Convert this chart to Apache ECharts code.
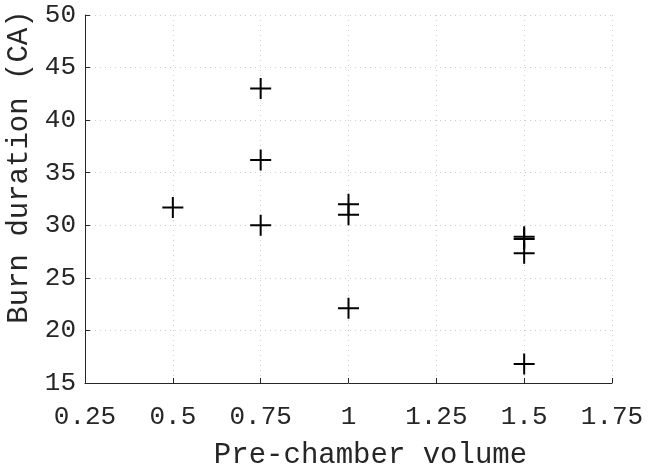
<!DOCTYPE html>
<html>
<head>
<meta charset="utf-8">
<script src="https://cdn.jsdelivr.net/npm/echarts@6/dist/echarts.min.js"></script>
<style>html,body{margin:0;padding:0;background:#fff;}#c{width:652px;height:469px;}</style>
</head>
<body>
<div id="c"></div>
<script>
const xValues = [0.5, 0.75, 0.75, 0.75, 1, 1, 1, 1.5, 1.5, 1.5, 1.5];
const yValues = [31.7, 43.0, 36.2, 30.0, 32.0, 31.0, 22.1, 28.9, 28.7, 27.35, 16.8];
const xName = 'Pre-chamber volume';
const yName = 'Burn duration (CA)';

const points = xValues.map((x, i) => [x, yValues[i]]);
const font = 'Liberation Mono';
const chart = echarts.init(document.getElementById('c'), null, {renderer: 'canvas'});
chart.setOption({
  animation: false,
  backgroundColor: '#fff',
  grid: {left: 85, right: 40, top: 15, bottom: 86, containLabel: false, outerBoundsMode: 'none'},
  xAxis: {
    type: 'value', min: 0.25, max: 1.75, interval: 0.25,
    name: xName, nameLocation: 'middle', nameGap: 58,
    nameTextStyle: {fontFamily: font, fontSize: 29, color: '#262626', padding: [0, 0, 0, 44]},
    axisLine: {show: true, onZero: false, lineStyle: {color: '#262626', width: 1}},
    axisTick: {show: true, inside: true, length: 5, lineStyle: {color: '#262626'}},
    axisLabel: {fontFamily: font, fontSize: 26, color: '#262626', margin: 21},
    splitLine: {show: true, lineStyle: {color: '#cfcfcf', type: [1, 4], width: 1}}
  },
  yAxis: {
    type: 'value', min: 15, max: 50, interval: 5,
    name: yName, nameLocation: 'middle', nameGap: 44,
    nameTextStyle: {fontFamily: font, fontSize: 29, color: '#262626', padding: [0, 0, 0, 64]},
    axisLine: {show: true, onZero: false, lineStyle: {color: '#262626', width: 1}},
    axisTick: {show: true, inside: true, length: 5, lineStyle: {color: '#262626'}},
    axisLabel: {fontFamily: font, fontSize: 26, color: '#262626', margin: 9, padding: [6, 0, 0, 0]},
    splitLine: {show: true, lineStyle: {color: '#cfcfcf', type: [1, 4], width: 1}}
  },
  series: [{
    type: 'scatter',
    data: points,
    symbol: 'path://M10 0V20M0 10H20',
    symbolSize: 21,
    itemStyle: {color: 'transparent', borderColor: '#000', borderWidth: 2, opacity: 1}
  }]
});
</script>
</body>
</html>
